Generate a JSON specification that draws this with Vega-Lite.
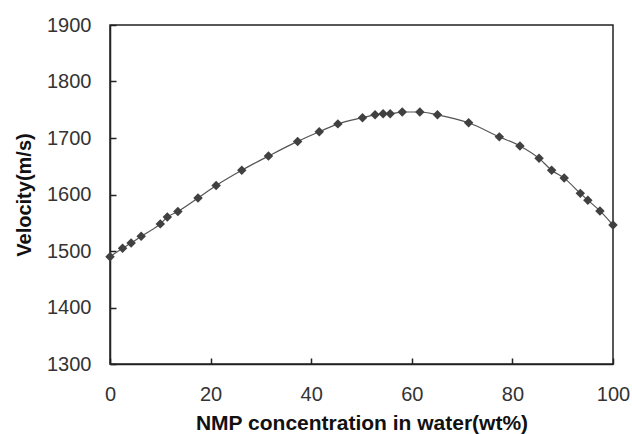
{
  "$schema": "https://vega.github.io/schema/vega-lite/v6.json",
  "width": 503,
  "height": 339,
  "autosize": {"type": "none"},
  "padding": {"left": 110, "top": 25, "right": 19, "bottom": 70},
  "background": "white",
  "config": {
    "view": {"stroke": "#222", "strokeWidth": 1.5},
    "font": "Liberation Sans"
  },
  "data": {"values": [
    {"c": 0, "v": 1490}, {"c": 2.5, "v": 1505}, {"c": 4.2, "v": 1514}, {"c": 6.2, "v": 1526},
    {"c": 10, "v": 1548}, {"c": 11.4, "v": 1560}, {"c": 13.5, "v": 1570}, {"c": 17.5, "v": 1594},
    {"c": 21.1, "v": 1616}, {"c": 26.2, "v": 1643}, {"c": 31.5, "v": 1668}, {"c": 37.3, "v": 1694},
    {"c": 41.6, "v": 1711}, {"c": 45.3, "v": 1725}, {"c": 50.2, "v": 1736}, {"c": 52.7, "v": 1741},
    {"c": 54.3, "v": 1743}, {"c": 55.7, "v": 1743}, {"c": 58.1, "v": 1746}, {"c": 61.6, "v": 1746},
    {"c": 65.1, "v": 1741}, {"c": 71.3, "v": 1727}, {"c": 77.4, "v": 1702}, {"c": 81.5, "v": 1686},
    {"c": 85.3, "v": 1664}, {"c": 87.8, "v": 1643}, {"c": 90.3, "v": 1629}, {"c": 93.5, "v": 1602},
    {"c": 95.0, "v": 1590}, {"c": 97.4, "v": 1571}, {"c": 100, "v": 1546}
  ]},
  "encoding": {
    "x": {
      "field": "c", "type": "quantitative",
      "scale": {"domain": [0, 100], "nice": false, "zero": false},
      "axis": {
        "title": "NMP concentration in water(wt%)",
        "values": [0, 20, 40, 60, 80, 100], "format": "d", "labelFlush": false,
        "grid": false, "tickSize": -6, "tickColor": "#222", "domainColor": "#222", "domainWidth": 1.5, "tickWidth": 1.5,
        "labelFontSize": 20, "labelColor": "#333", "labelPadding": 26, "labelFont": "Liberation Sans",
        "titleFontSize": 21, "titleFontWeight": "bold", "titleColor": "#111", "titlePadding": 8, "titleFont": "Liberation Sans"
      }
    },
    "y": {
      "field": "v", "type": "quantitative",
      "scale": {"domain": [1300, 1900], "nice": false, "zero": false},
      "axis": {
        "title": "Velocity(m/s)",
        "values": [1300, 1400, 1500, 1600, 1700, 1800, 1900], "format": "d", "labelFlush": false,
        "grid": false, "tickSize": -6, "tickColor": "#222", "domainColor": "#222", "domainWidth": 1.5, "tickWidth": 1.5,
        "labelFontSize": 20, "labelColor": "#333", "labelPadding": 25, "labelFont": "Liberation Sans",
        "titleFontSize": 20, "titleFontWeight": "bold", "titleColor": "#111", "titlePadding": 12, "titleFont": "Liberation Sans"
      }
    }
  },
  "layer": [
    {"mark": {"type": "line", "interpolate": "monotone", "color": "#555", "strokeWidth": 1.2}},
    {"mark": {"type": "point", "shape": "diamond", "filled": true, "color": "#404040", "size": 90, "opacity": 1}}
  ]
}
